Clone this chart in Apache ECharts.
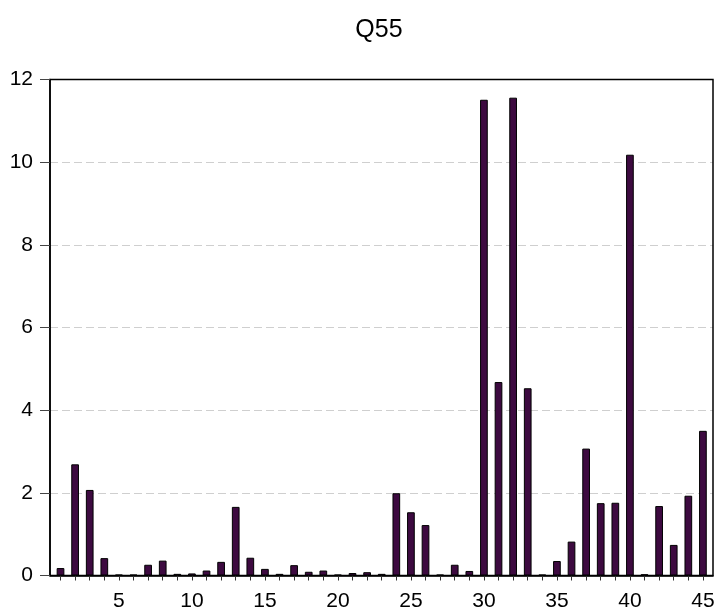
<!DOCTYPE html>
<html>
<head>
<meta charset="utf-8">
<script src="https://cdn.jsdelivr.net/npm/echarts@6/dist/echarts.min.js"></script>
<style>html,body{margin:0;padding:0;background:#fff}#c{width:716px;height:610px}</style>
</head>
<body>
<div id="c"></div>
<script>
var titleText = 'Q55';
var categories = [1,2,3,4,5,6,7,8,9,10,11,12,13,14,15,16,17,18,19,20,21,22,23,24,25,26,27,28,29,30,31,32,33,34,35,36,37,38,39,40,41,42,43,44,45];
var values = [0.18,2.69,2.07,0.42,0.02,0.02,0.26,0.36,0.04,0.05,0.12,0.33,1.66,0.43,0.16,0.04,0.25,0.09,0.12,0.02,0.06,0.08,0.04,1.99,1.53,1.22,0.02,0.26,0.11,11.51,4.68,11.56,4.53,0.02,0.35,0.82,3.07,1.75,1.76,10.18,0.03,1.68,0.74,1.93,3.50];
var xLabelValues = [5,10,15,20,25,30,35,40,45];
var yTicks = [0,2,4,6,8,10,12];

var font = 'Arial, "Liberation Sans", sans-serif';
var chart = echarts.init(document.getElementById('c'), null, {renderer: 'canvas'});
var data = categories.map(function(c, i){ return [c, values[i]]; });
var gridLines = yTicks.slice(1, -1).map(function(v){ return {yAxis: v}; });
chart.setOption({
  animation: false,
  backgroundColor: '#fff',
  title: {
    text: titleText,
    left: 374,
    textAlign: 'center',
    top: 13,
    textStyle: {fontFamily: font, fontSize: 25, fontWeight: 'normal', color: '#000'}
  },
  grid: {
    left: 50, right: 3, top: 79.5, bottom: 34.5,
    containLabel: false,
    outerBoundsMode: 'none',
    show: true, borderColor: '#000', borderWidth: 1.5, backgroundColor: 'transparent'
  },
  xAxis: {
    type: 'value',
    min: 0.28, max: 45.69,
    axisLine: {show: true, onZero: false, lineStyle: {color: '#000', width: 1.5}},
    axisTick: {show: true, length: 5, customValues: categories, lineStyle: {color: '#333'}},
    axisLabel: {show: true, customValues: xLabelValues, margin: 15, fontFamily: font, fontSize: 21, color: '#000'},
    splitLine: {show: false}
  },
  yAxis: {
    type: 'value',
    min: yTicks[0], max: yTicks[yTicks.length - 1], interval: 2,
    axisLine: {show: true, lineStyle: {color: '#000', width: 1.5}},
    axisTick: {show: true, length: 10, lineStyle: {color: '#444'}},
    axisLabel: {margin: 17, fontFamily: font, fontSize: 21, color: '#000'},
    splitLine: {show: false}
  },
  series: [{
    type: 'bar',
    data: data,
    barWidth: 7.7,
    z: 5,
    itemStyle: {color: '#3d0a40', borderColor: '#000', borderWidth: 1},
    markLine: {
      silent: true,
      symbol: 'none',
      label: {show: false},
      z: -1,
      lineStyle: {color: '#cfcfcf', type: [8, 4], width: 1},
      data: gridLines
    }
  }]
});
</script>
</body>
</html>
